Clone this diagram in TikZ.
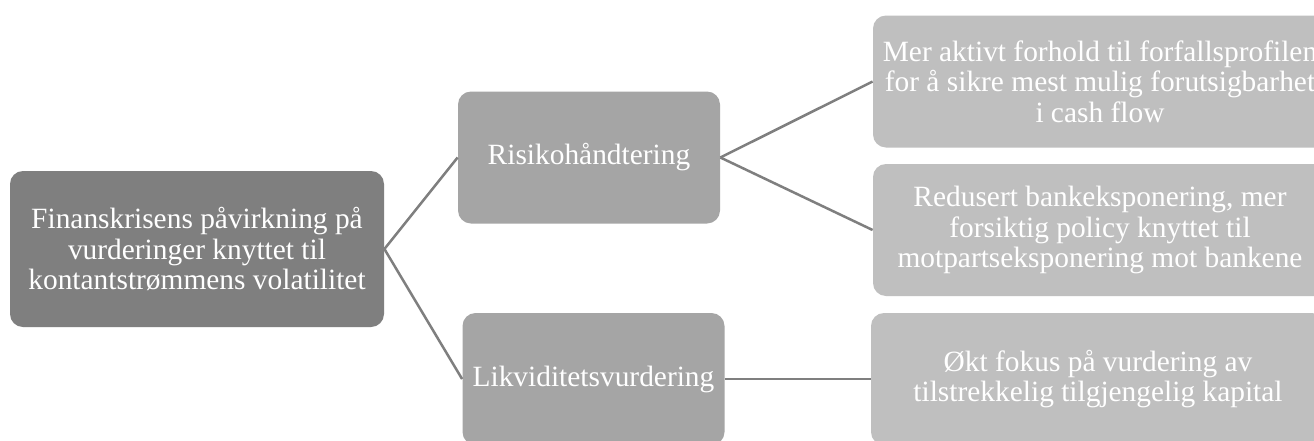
\documentclass[tikz,border=0pt]{standalone}
\usepackage{fontspec}
\setmainfont{Liberation Serif}
\definecolor{rootfill}{HTML}{7F7F7F}
\definecolor{midfill}{HTML}{A5A5A5}
\definecolor{leaffill}{HTML}{BFBFBF}
\definecolor{linkgray}{HTML}{7F7F7F}
\tikzset{
  box/.style={rounded corners=6.5pt, align=center, text=white, inner sep=0pt,
    font=\fontsize{14.7pt}{15.2pt}\selectfont},
  rootbox/.style={box, fill=rootfill, minimum width=187pt, minimum height=78pt},
  midbox/.style={box, fill=midfill, minimum width=131pt, minimum height=66pt},
  leafbox/.style={box, fill=leaffill, minimum width=227pt, minimum height=66pt},
  link/.style={draw=linkgray, line width=1.25pt}
}
\begin{document}
\begin{tikzpicture}[x=0.5pt, y=-0.5pt]
  \useasboundingbox (0,0) rectangle (1314,440);
  \fill[white] (0,0) rectangle (1314,440);
  \clip (0,0) rectangle (1314,440);

  \node[rootbox] (root) at (197,249) {Finanskrisens påvirkning på\\vurderinger knyttet til\\kontantstrømmens volatilitet};

  \node[midbox] (risk) at (589,157.5) {Risikohåndtering};
  \node[midbox] (liq) at (593.5,379) {Likviditetsvurdering};

  \node[leafbox] (leafA) at (1100,81.5) {Mer aktivt forhold til forfallsprofilen\\for å sikre mest mulig forutsigbarhet\\i cash flow};
  \node[leafbox] (leafB) at (1100,230) {Redusert bankeksponering, mer\\forsiktig policy knyttet til\\motpartseksponering mot bankene};
  \node[leafbox] (leafC) at (1098,379) {Økt fokus på vurdering av\\tilstrekkelig tilgjengelig kapital};

  \draw[link] (root.east) -- (risk.west);
  \draw[link] (root.east) -- (liq.west);
  \draw[link] (risk.east) -- (leafA.west);
  \draw[link] (risk.east) -- (leafB.west);
  \draw[link] (liq.east) -- (leafC.west);
\end{tikzpicture}
\end{document}
